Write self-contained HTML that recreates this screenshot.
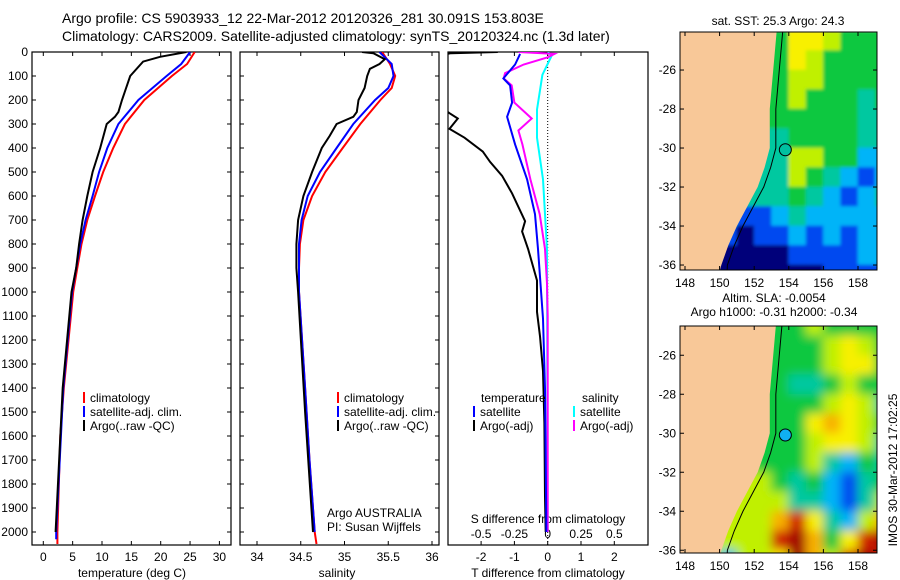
<!DOCTYPE html>
<html><head><meta charset="utf-8"><style>
body{margin:0;background:#fff}
svg{display:block;font-family:"Liberation Sans",sans-serif}
text{fill:#000}
</style></head><body>
<svg id="s" width="900" height="580" viewBox="0 0 900 580">
<rect width="900" height="580" fill="#fff"/>
<text x="62" y="23" font-size="14">Argo profile: CS 5903933_12 22-Mar-2012 20120326_281 30.091S 153.803E</text>
<text x="62" y="41" font-size="14">Climatology: CARS2009. Satellite-adjusted climatology: synTS_20120324.nc (1.3d later)</text>
<g id="g"></g>
</svg>
<script>
// ---- data ----
const tDepthR=[0,50,100,200,300,400,500,600,700,800,900,1000,1400,1600,2000,2050];
const tClim=[25.8,24.5,21.9,17.2,13.9,11.9,10.2,8.8,7.5,6.5,5.8,5.1,3.5,2.9,2.4,2.4];
const tDepthB=[0,50,100,200,300,400,500,600,700,800,900,1000,1400,2000,2030];
const tSat=[25.0,23.5,21.0,16.2,12.8,10.9,9.5,8.4,7.2,6.3,5.6,4.9,3.4,2.2,2.2];
const tDepthK=[0,20,40,100,200,250,270,300,400,500,600,700,800,900,1000,1400,2000];
const tArgo=[24.4,19.9,17.0,14.8,13.4,12.8,12.2,10.8,9.7,8.4,7.5,6.7,6.1,5.6,4.8,3.3,2.1];
const sDepthR=[0,50,100,150,200,300,400,500,600,700,800,900,1000,1400,1700,2000,2050];
const sClim=[35.43,35.52,35.58,35.54,35.41,35.18,34.98,34.78,34.63,34.53,34.49,34.48,34.48,34.55,34.6,34.66,34.68];
const sDepthB=[0,50,100,150,200,300,400,500,600,700,800,1000,1400,1700,2000];
const sSat=[35.40,35.54,35.56,35.50,35.35,35.10,34.91,34.72,34.58,34.51,34.48,34.48,34.55,34.6,34.66];
const sDepthK=[0,5,30,50,70,100,150,200,250,270,300,350,400,500,600,700,800,900,1000,1500,2000];
const sArgo=[35.2,35.33,35.46,35.4,35.29,35.26,35.23,35.16,35.14,35.1,34.91,34.83,34.74,34.63,34.53,34.47,34.45,34.45,34.47,34.55,34.64];
const dDepthK=[0,5,20,100,200,255,277,320,357,415,458,516,589,705,748,821,952,1083,1184,1329,1547,1852,2000];
const dTArgo=[-1.5,-2.9,-3.5,-3.5,-3.5,-2.95,-2.7,-2.95,-2.5,-1.95,-1.73,-1.37,-1.07,-0.68,-0.77,-0.59,-0.32,-0.32,-0.23,-0.14,-0.1,-0.08,-0.06];
const dDepthB=[8,52,110,139,211,270,385,531,676,821,1111,1402,2000];
const dTSat=[-0.83,-0.98,-1.33,-1.13,-1.07,-1.22,-0.98,-0.62,-0.38,-0.29,-0.14,-0.08,-0.04];
const dDepthC=[0,15,95,240,357,531,821,2000];
const dSSat=[0.0,0.03,-0.04,-0.08,-0.08,-0.035,-0.005,0];
const dDepthM=[0,8,22,52,88,110,139,211,277,327,385,531,676,821,966,1100,2000];
const dSArgo=[-0.22,0.05,0,-0.18,-0.32,-0.33,-0.27,-0.25,-0.12,-0.22,-0.19,-0.13,-0.06,-0.02,-0.005,0,0];
const sstGrid=[
[4,4,4,4,4,4,6,6,5,4,4,4],[4,4,4,4,4,4,6,5,4,4,4,4],[4,4,4,4,4,4,5,5,4,4,4,4],
[4,4,4,4,4,4,5,4,4,4,3,4],[4,4,4,4,4,4,4,4,4,4,3,3],[3,3,3,3,3,3,4,4,4,4,3,3],
[3,3,3,3,3,3,5,5,4,4,2,2],[3,3,3,3,3,3,5,4,3,2,1,2],[3,3,3,3,3,3,4,3,2,1,2,3],
[2,2,2,1,1,2,3,2,2,2,2,2],[1,1,1,0,1,1,2,1,2,1,2,2],[0,0,0,0,0,0,1,1,1,1,2,2],[0,0,0,0,0,0,0,0,1,1,1,1]];
const slaGrid=[
[4,4,4,4,4,4,4,5,4,4,4,4],[4,4,4,4,4,4,4,4,5,6,5,4],[4,4,4,4,4,4,4,4,5,6,6,4],
[4,4,4,4,4,4,3,3,4,5,4,4],[4,4,4,4,4,4,4,4,5,6,5,3],[4,4,4,4,4,4,4,6,7,6,5,4],
[4,4,4,4,4,4,4,5,6,6,5,3],[4,4,4,4,4,4,4,5,3,2,4,3],[5,5,5,5,5,4,3,4,2,1,3,4],
[5,5,5,5,5,5,3,3,2,1,3,5],[5,5,5,5,5,7,8,6,3,2,5,7],[5,5,5,5,5,8,9,7,4,6,8,9],[5,5,2,5,5,6,9,7,5,8,9,8]];
const palette=["#00007a","#0048f0","#00b4f8","#00c8a0","#10c840","#c0f000","#f8f000","#f8b000","#d02000","#a00000"];
const coastLon=[153.3,153.2,153.1,153.0,152.9,152.9,152.9,152.6,152.2,151.6,151.0,150.5,150.1];
const latTicks=[-26,-28,-30,-32,-34,-36];
const lonTicks=[148,150,152,154,156,158];

const NS="http://www.w3.org/2000/svg";
const G=document.getElementById('g');
function el(tag,attrs,parent){const e=document.createElementNS(NS,tag);for(const k in attrs)e.setAttribute(k,attrs[k]);(parent||G).appendChild(e);return e;}
function txt(x,y,s,anchor,size,parent){const t=el('text',{x:x,y:y,'font-size':size||12,'text-anchor':anchor||'start'},parent);t.textContent=s;return t;}
const yD=d=>52+d*0.24;
const xT=t=>43.3+t*5.87;
const xS=s=>257+(s-34)*87.5;
const xDT=v=>547.7+v*33.3;
const xDS=v=>547.7+v*133.2;
function line(xs,ds,fx,color,w,clip,name){
  const p=xs.map((v,i)=>(i?'L':'M')+fx(v).toFixed(1)+','+yD(ds[i]).toFixed(1)).join('');
  const e=el('path',{d:p,fill:'none',stroke:color,'stroke-width':w,'clip-path':clip});
  
  
}
const defs=el('defs',{});
function clip(id,x,y,w,h){const c=el('clipPath',{id:id},defs);el('rect',{x:x,y:y,width:w,height:h},c);}
clip('c1',32,52,199,493);clip('c2',240,52,199,493);clip('c3',448,52,200,493);
clip('m1',680,32,197,238);clip('m2',680,326,197,227);
const f=el('filter',{id:'blur',x:'-0.1',y:'-0.1',width:'1.2',height:'1.2'},defs);
el('feGaussianBlur',{stdDeviation:'5'},f);
const f2=el('filter',{id:'blur2',x:'-0.1',y:'-0.1',width:'1.2',height:'1.2'},defs);
el('feGaussianBlur',{stdDeviation:'1.5'},f2);

function panelBox(x0,x1,name){
  const b=el('rect',{x:x0,y:52,width:x1-x0,height:493,fill:'none',stroke:'#000','stroke-width':1.2});
  
  
}
panelBox(32,231,'temperature-panel');
for(let d=0;d<=2000;d+=100){
  el('line',{x1:32,x2:36,y1:yD(d),y2:yD(d),stroke:'#000'});el('line',{x1:227,x2:231,y1:yD(d),y2:yD(d),stroke:'#000'});
  el('line',{x1:240,x2:244,y1:yD(d),y2:yD(d),stroke:'#000'});el('line',{x1:435,x2:439,y1:yD(d),y2:yD(d),stroke:'#000'});
  const t=txt(28,yD(d)+4,String(d),'end',12);
  
  
}
for(let t=0;t<=30;t+=5){el('line',{x1:xT(t),x2:xT(t),y1:52,y2:56,stroke:'#000'});el('line',{x1:xT(t),x2:xT(t),y1:541,y2:545,stroke:'#000'});txt(xT(t),561,String(t),'middle');}
txt(132,577,'temperature (deg C)','middle');
line(tClim,tDepthR,xT,'#f00',2,'url(#c1)','temp-climatology-line');
line(tSat,tDepthB,xT,'#00f',2,'url(#c1)','temp-satellite-line');
line(tArgo,tDepthK,xT,'#000',2,'url(#c1)','temp-argo-line');
function legend(x,y,items){items.forEach((it,i)=>{el('rect',{x:x,y:y+i*14-10,width:2,height:11,fill:it[0]});txt(x+7,y+i*14,it[1],'start',12);});}
legend(83,402,[['#f00','climatology'],['#00f','satellite-adj. clim.'],['#000','Argo(..raw -QC)']]);
panelBox(240,439,'salinity-panel');
[34,34.5,35,35.5,36].forEach(s=>{el('line',{x1:xS(s),x2:xS(s),y1:52,y2:56,stroke:'#000'});el('line',{x1:xS(s),x2:xS(s),y1:541,y2:545,stroke:'#000'});txt(xS(s),561,String(s),'middle');});
txt(337,577,'salinity','middle');
line(sClim,sDepthR,xS,'#f00',2,'url(#c2)','sal-climatology-line');
line(sSat,sDepthB,xS,'#00f',2,'url(#c2)','sal-satellite-line');
line(sArgo,sDepthK,xS,'#000',2,'url(#c2)','sal-argo-line');
legend(337,402,[['#f00','climatology'],['#00f','satellite-adj. clim.'],['#000','Argo(..raw -QC)']]);
txt(327,517,'Argo AUSTRALIA');txt(327,531,'PI: Susan Wijffels');
panelBox(448,648,'difference-panel');
el('line',{x1:xDT(0),x2:xDT(0),y1:52,y2:545,stroke:'#000','stroke-dasharray':'1,2'});
[-2,-1,0,1,2].forEach(v=>{el('line',{x1:xDT(v),x2:xDT(v),y1:541,y2:545,stroke:'#000'});txt(xDT(v),561,String(v),'middle');});
[-0.5,-0.25,0,0.25,0.5].forEach(v=>{el('line',{x1:xDS(v),x2:xDS(v),y1:52,y2:56,stroke:'#000'});txt(xDS(v),538,String(v),'middle');});
txt(548,523,'S difference from climatology','middle');
txt(548,577,'T difference from climatology','middle');
line(dTArgo,dDepthK,xDT,'#000',2,'url(#c3)','tdiff-argo-line');
line(dSSat,dDepthC,xDS,'#00ffff',2,'url(#c3)','sdiff-satellite-line');
line(dSArgo,dDepthM,xDS,'#ff00ff',2,'url(#c3)','sdiff-argo-line');
line(dTSat,dDepthB,xDT,'#00f',2,'url(#c3)','tdiff-satellite-line');
txt(481,402,'temperature');txt(582,402,'salinity');
legend(473,416,[['#00f','satellite'],['#000','Argo(-adj)']]);
legend(573,416,[['#00ffff','satellite'],['#ff00ff','Argo(-adj)']]);
function map(grid,top,bottom,latTop,clipId,circleFill,name,filt){
  const X=l=>685+(l-148)*17.3, Y=la=>top+(latTop-la)*19.5;
  const g=el('g',{'clip-path':'url(#'+clipId+')'});
  
  
  const gi=el('g',{filter:'url(#'+filt+')'},g);
  grid.forEach((row,r)=>row.forEach((c,k)=>{
    el('rect',{x:X(148+k)-0.3,y:Y(-24-r)-0.3,width:17.9,height:20.1,fill:palette[c]},gi);
  }));
  let pts=[[X(147),Y(-23)]];
  coastLon.forEach((lo,i)=>pts.push([X(lo),Y(-24-i)]));
  pts.push([X(149.8),Y(-37)],[X(147),Y(-37)]);
  el('polygon',{points:pts.map(p=>p.join(',')).join(' '),fill:'#f8c898'},g);
  const shelf=coastLon.map((lo,i)=>(i?'L':'M')+X(lo+0.35)+','+Y(-24-i)).join('')+'L'+X(150.4)+','+Y(-37);
  el('path',{d:shelf,fill:'none',stroke:'#000','stroke-width':1},g);
  el('circle',{cx:X(153.8),cy:Y(-30.09),r:6,fill:circleFill,stroke:'#000'},g);
  el('rect',{x:680,y:top,width:197,height:bottom-top,fill:'none',stroke:'#000'});
  latTicks.forEach(la=>{el('line',{x1:680,x2:684,y1:Y(la),y2:Y(la),stroke:'#000'});el('line',{x1:873,x2:877,y1:Y(la),y2:Y(la),stroke:'#000'});txt(676,Y(la)+4,String(la),'end');});
  lonTicks.forEach(lo=>{el('line',{x1:X(lo),x2:X(lo),y1:top,y2:top+4,stroke:'#000'});el('line',{x1:X(lo),x2:X(lo),y1:bottom-4,y2:bottom,stroke:'#000'});txt(X(lo),bottom+17,String(lo),'middle');});
}
map(sstGrid,32,270,-24.05,'m1','#00c0a0','sst-map','blur2');
map(slaGrid,326,553,-24.5,'m2','#10b0f0','sla-map','blur');
txt(778,25,'sat. SST: 25.3 Argo: 24.3','middle');
txt(774,302,'Altim. SLA: -0.0054','middle');
txt(774,316,'Argo h1000: -0.31 h2000: -0.34','middle');
const r=txt(0,0,'IMOS 30-Mar-2012 17:02:25','middle',12);
r.setAttribute('transform','translate(897,470) rotate(-90)');


</script>
</body></html>
